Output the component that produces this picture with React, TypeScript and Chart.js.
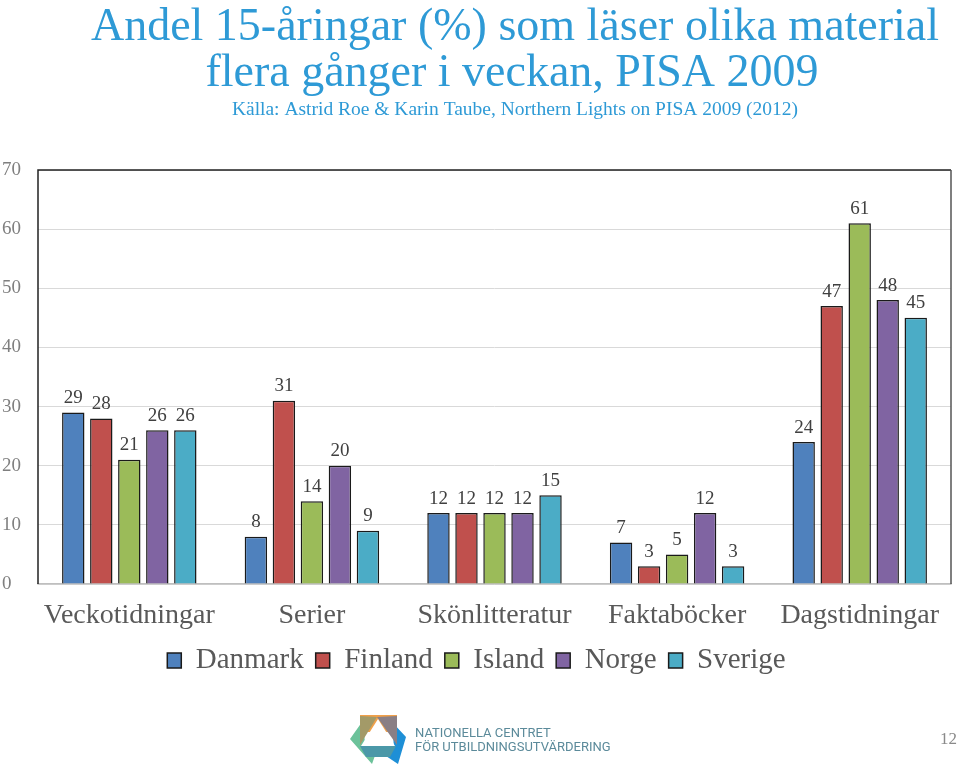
import React, { useEffect, useRef } from "react";
import { Chart, registerables } from "chart.js";

Chart.register(...registerables);

const categories = ["Veckotidningar", "Serier", "Skönlitteratur", "Faktaböcker", "Dagstidningar"];
const seriesNames = ["Danmark", "Finland", "Island", "Norge", "Sverige"];
const danmark = [29, 8, 12, 7, 24];
const finland = [28, 31, 12, 3, 47];
const island = [21, 14, 12, 5, 61];
const norge = [26, 20, 12, 12, 48];
const sverige = [26, 9, 15, 3, 45];
const colors = ["#4f81bd", "#c0504d", "#9bbb59", "#8064a2", "#4bacc6"];
const titleLines = ["Andel 15-åringar (%) som läser olika material", "flera gånger i veckan, PISA 2009"];
const subtitle = "Källa: Astrid Roe & Karin Taube, Northern Lights on PISA 2009 (2012)";
const yTicks = [0, 10, 20, 30, 40, 50, 60, 70];

const SERIF = '"Liberation Serif", "DejaVu Serif", serif';

const decorPlugin = {
  id: "decor",
  afterDatasetsDraw(chart: any) {
    const ctx = chart.ctx;
    const ca = chart.chartArea;
    ctx.save();
    ctx.font = `19px ${SERIF}`;
    ctx.fillStyle = "#404040";
    ctx.textAlign = "center";
    ctx.textBaseline = "bottom";
    chart.data.datasets.forEach((ds: any, i: number) => {
      const meta = chart.getDatasetMeta(i);
      meta.data.forEach((bar: any, j: number) => {
        ctx.fillText(String(ds.data[j]), bar.x, bar.y - 5);
      });
    });
    ctx.lineWidth = 1.5;
    ctx.strokeStyle = "#222";
    ctx.beginPath();
    ctx.moveTo(ca.left, ca.bottom);
    ctx.lineTo(ca.left, ca.top);
    ctx.lineTo(ca.right, ca.top);
    ctx.stroke();
    ctx.strokeStyle = "#555";
    ctx.beginPath();
    ctx.moveTo(ca.right, ca.top);
    ctx.lineTo(ca.right, ca.bottom);
    ctx.stroke();
    ctx.restore();
  },
  afterDraw(chart: any) {
    const ctx = chart.ctx;
    ctx.save();
    ctx.fillStyle = "#2e9ad6";
    ctx.textAlign = "center";
    ctx.textBaseline = "alphabetic";
    ctx.font = `46px ${SERIF}`;
    ctx.fillText(titleLines[0], 515, 40);
    ctx.fillText(titleLines[1], 512, 86);
    ctx.font = `19.5px ${SERIF}`;
    ctx.fillText(subtitle, 515, 115);
    const poly = (pts: number[][], c: string) => {
      ctx.fillStyle = c;
      ctx.beginPath();
      ctx.moveTo(pts[0][0], pts[0][1]);
      for (let k = 1; k < pts.length; k++) ctx.lineTo(pts[k][0], pts[k][1]);
      ctx.closePath();
      ctx.fill();
    };
    poly([[360, 715], [397, 715], [397, 732], [360, 732]], "#f0a04a");
    poly([[362, 722], [350, 739], [372, 764], [377, 750], [366, 748]], "#6cc29a");
    poly([[392, 722], [406, 737], [398, 764], [383, 754], [394, 748]], "#1e8fd6");
    poly([[377, 717], [397, 716], [397, 745]], "#8a7f85");
    poly([[377, 717], [360, 716], [360, 745]], "#a39a68");
    poly([[360, 746], [396, 746], [390, 757], [366, 757]], "#4b98a8");
    poly([[378, 719], [361, 746], [395, 746]], "#ffffff");
    ctx.fillStyle = "#5b8a9a";
    ctx.textAlign = "left";
    ctx.font = `13px "Roboto", "Open Sans", sans-serif`;
    ctx.fillText("NATIONELLA CENTRET", 415, 737);
    ctx.fillText("FÖR UTBILDNINGSUTVÄRDERING", 415, 751);
    ctx.fillStyle = "#8a8a8a";
    ctx.font = `17px ${SERIF}`;
    ctx.textAlign = "right";
    ctx.fillText("12", 957, 744);
    ctx.restore();
  },
};

export default function App() {
  const ref = useRef<HTMLCanvasElement | null>(null);
  useEffect(() => {
    if (!ref.current) return;
    const seriesData = [danmark, finland, island, norge, sverige];
    const chart = new Chart(ref.current, {
      type: "bar",
      data: {
        labels: categories,
        datasets: seriesNames.map((name, i) => ({
          label: name,
          data: seriesData[i],
          backgroundColor: colors[i],
          borderColor: "#1a1a1a",
          borderWidth: 1.5,
          categoryPercentage: 0.767,
          barPercentage: 0.8,
        })),
      },
      options: {
        responsive: false,
        animation: false,
        layout: { padding: { top: 170, left: 2, right: 8, bottom: 81 } },
        plugins: {
          title: { display: false },
          tooltip: { enabled: false },
          legend: {
            position: "bottom",
            labels: {
              font: { family: SERIF, size: 29 },
              color: "#595959",
              boxWidth: 14,
              boxHeight: 15,
              padding: 12,
            },
          },
        },
        scales: {
          x: {
            grid: { display: false, drawTicks: false },
            border: { color: "#bfbfbf", width: 1.5 },
            afterFit: (s: any) => { s.height = 50; },
            ticks: { font: { family: SERIF, size: 28 }, color: "#595959", padding: 15, maxRotation: 0 },
          },
          y: {
            min: 0,
            max: 70,
            afterFit: (s: any) => { s.width = 36; },
            afterBuildTicks: (s: any) => { s.ticks = yTicks.map((v) => ({ value: v })); },
            grid: { color: "#d9d9d9", drawTicks: false },
            border: { display: false },
            ticks: { font: { family: SERIF, size: 19 }, color: "#7f7f7f", crossAlign: "far", padding: 6 },
          },
        },
      },
      plugins: [decorPlugin],
    });
    return () => chart.destroy();
  }, []);
  return (
    <div style={{ position: "absolute", left: 0, top: 0, width: 959, height: 766, background: "#fff" }}>
      <canvas ref={ref} width={959} height={766} style={{ display: "block" }} />
    </div>
  );
}
